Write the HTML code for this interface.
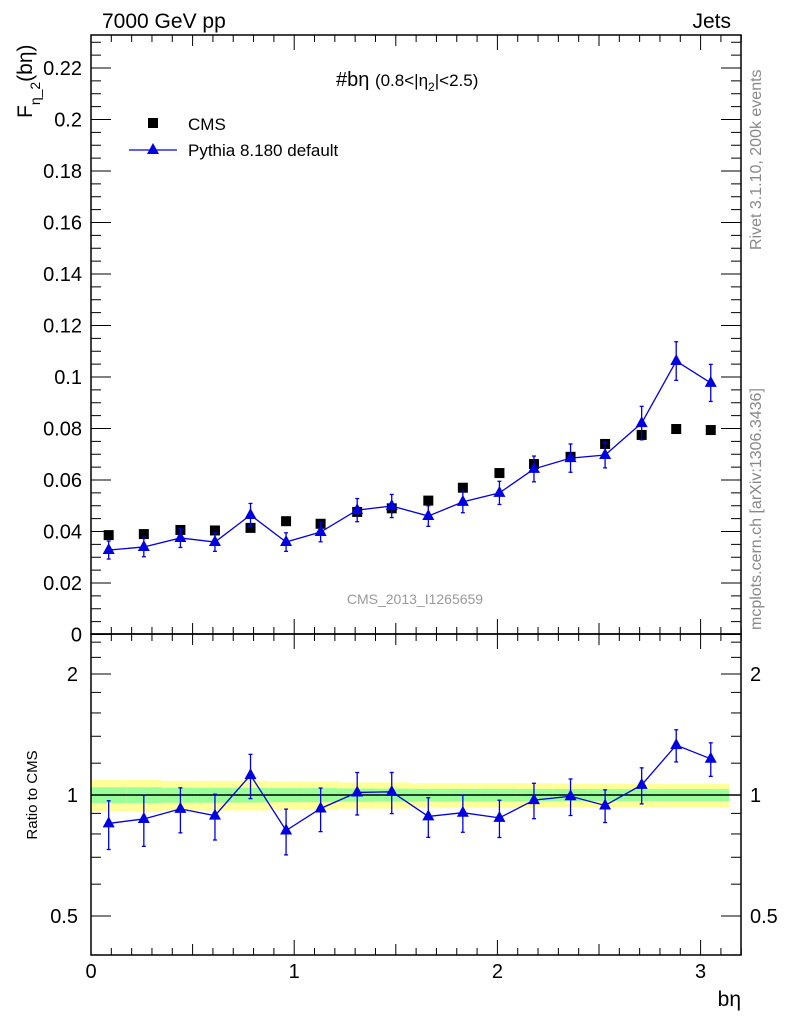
<!DOCTYPE html>
<html><head><meta charset="utf-8"><style>
html,body{margin:0;padding:0;background:#fff;}
svg{display:block;font-family:"Liberation Sans",sans-serif;}
</style></head><body>
<svg id="c" width="786" height="1024" viewBox="0 0 786 1024"></svg>
<script>
const xVals=[0.087,0.26,0.44,0.61,0.785,0.96,1.13,1.31,1.48,1.66,1.83,2.01,2.18,2.36,2.53,2.71,2.88,3.05];
const cmsVals=[0.0386,0.039,0.0406,0.0404,0.0414,0.044,0.043,0.0476,0.049,0.052,0.057,0.0627,0.0662,0.069,0.074,0.0775,0.0798,0.0794];
const mcVals=[0.0328,0.034,0.0375,0.0359,0.0464,0.0359,0.0398,0.0483,0.0499,0.046,0.0515,0.055,0.0643,0.0685,0.0697,0.0821,0.1062,0.0977];
const mcErr=[0.0035,0.0038,0.0037,0.0036,0.0045,0.0036,0.0038,0.0045,0.0045,0.004,0.0042,0.0045,0.005,0.0055,0.005,0.0065,0.0075,0.0072];
const bandOuter=[0.09,0.09,0.085,0.085,0.085,0.08,0.08,0.075,0.075,0.07,0.07,0.07,0.07,0.068,0.068,0.067,0.067,0.067];
const bandInner=[0.045,0.045,0.043,0.043,0.042,0.04,0.04,0.038,0.037,0.036,0.036,0.036,0.035,0.035,0.034,0.034,0.034,0.034];
const mainTicks=[0,0.02,0.04,0.06,0.08,0.1,0.12,0.14,0.16,0.18,0.2,0.22];
const ratioTicks=[0.5,1,2];
const xTicks=[0,1,2,3];

const L=91,R=741,T=35,MB=634,RB=955;
const X=v=>L+v*203.2;
const Y=v=>634.5-v*2575;
const RY=v=>795-Math.log2(v)*121;
const svg=document.getElementById('c');
const NS='http://www.w3.org/2000/svg';
function mk(tag,a,txt){const e=document.createElementNS(NS,tag);for(const k in a)e.setAttribute(k,a[k]);if(txt!==undefined)e.textContent=txt;svg.appendChild(e);return e;}

for(let i=0;i<xVals.length;i++){
  const x0=i==0?L:(X(xVals[i-1])+X(xVals[i]))/2, x1=i==xVals.length-1?X(3.14):(X(xVals[i])+X(xVals[i+1]))/2;
  let e=mk('rect',{x:x0,y:RY(1+bandOuter[i]),width:x1-x0,height:RY(1-bandOuter[i])-RY(1+bandOuter[i]),fill:'#ffff99'});
  
  e=mk('rect',{x:x0,y:RY(1+bandInner[i]),width:x1-x0,height:RY(1-bandInner[i])-RY(1+bandInner[i]),fill:'#99ff99'});
  
}
mk('line',{x1:L,x2:R,y1:RY(1),y2:RY(1),stroke:'#000','stroke-width':1.5,});

mk('rect',{x:L,y:T,width:R-L,height:MB-T,fill:'none',stroke:'#000','stroke-width':1.5,});
mk('rect',{x:L,y:MB,width:R-L,height:RB-MB,fill:'none',stroke:'#000','stroke-width':1.5,});

for(let k=0;k<=32;k++){const v=k/10,x=X(v);const len=k%10==0?15:(k%5==0?11:7);
 for(const [yb,yt] of [[MB,T],[RB,MB]]){
  mk('line',{x1:x,x2:x,y1:yb,y2:yb-len,stroke:'#000'});
  mk('line',{x1:x,x2:x,y1:yt,y2:yt+len,stroke:'#000'});}}
xTicks.forEach(v=>{const e=mk('text',{x:X(v),y:978,'font-size':20,'text-anchor':'middle'},String(v));
 });
for(let k=0;k<=46;k++){const v=k*0.005,y=Y(v);if(y<T)break;const len=k%4==0?20:10;
 mk('line',{x1:L,x2:L+len,y1:y,y2:y,stroke:'#000'});mk('line',{x1:R,x2:R-len,y1:y,y2:y,stroke:'#000'});}
mainTicks.forEach(v=>{const e=mk('text',{x:82,y:Y(v)+7,'font-size':20,'text-anchor':'end'},String(v));
 });
[0.4,0.5,0.6,0.7,0.8,0.9,1,1.2,1.4,1.6,1.8,2,2.2,2.4].forEach(v=>{const y=RY(v);const len=(v==0.5||v==1||v==2)?20:10;
 mk('line',{x1:L,x2:L+len,y1:y,y2:y,stroke:'#000'});mk('line',{x1:R,x2:R-len,y1:y,y2:y,stroke:'#000'});});
ratioTicks.forEach(v=>{let e=mk('text',{x:78,y:RY(v)+7,'font-size':20,'text-anchor':'end'},String(v));
 
 e=mk('text',{x:750,y:RY(v)+7,'font-size':20},String(v));
 });

xVals.forEach((xv,i)=>{const e=mk('rect',{x:X(xv)-5,y:Y(cmsVals[i])-5,width:10,height:10,fill:'#000'});
 });

function tri(x,y){return `${x},${y-7} ${x-6},${y+4} ${x+6},${y+4}`;}
let pts=xVals.map((xv,i)=>X(xv)+','+Y(mcVals[i])).join(' ');
mk('polyline',{points:pts,fill:'none',stroke:'#0000e0','stroke-width':1.3,});
xVals.forEach((xv,i)=>{const x=X(xv);
 mk('line',{x1:x,x2:x,y1:Y(mcVals[i]+mcErr[i]),y2:Y(mcVals[i]-mcErr[i]),stroke:'#0000e0','stroke-width':1.3});
 mk('line',{x1:x-2,x2:x+2,y1:Y(mcVals[i]+mcErr[i]),y2:Y(mcVals[i]+mcErr[i]),stroke:'#0000e0','stroke-width':1.3});
 mk('line',{x1:x-2,x2:x+2,y1:Y(mcVals[i]-mcErr[i]),y2:Y(mcVals[i]-mcErr[i]),stroke:'#0000e0','stroke-width':1.3});
 const e=mk('polygon',{points:tri(x,Y(mcVals[i])),fill:'#0000e0'});
 });
pts=xVals.map((xv,i)=>X(xv)+','+RY(mcVals[i]/cmsVals[i])).join(' ');
mk('polyline',{points:pts,fill:'none',stroke:'#0000e0','stroke-width':1.3,});
xVals.forEach((xv,i)=>{const x=X(xv),r=mcVals[i]/cmsVals[i],er=1.3*mcErr[i]/cmsVals[i];
 mk('line',{x1:x,x2:x,y1:RY(r+er),y2:RY(r-er),stroke:'#0000e0','stroke-width':1.3});
 mk('line',{x1:x-2,x2:x+2,y1:RY(r+er),y2:RY(r+er),stroke:'#0000e0','stroke-width':1.3});
 mk('line',{x1:x-2,x2:x+2,y1:RY(r-er),y2:RY(r-er),stroke:'#0000e0','stroke-width':1.3});
 const e=mk('polygon',{points:tri(x,RY(r)),fill:'#0000e0'});
 });
</script>
<svg width="786" height="1024" style="position:absolute;left:0;top:0">
<text x="102" y="28" font-size="21">7000 GeV pp</text>
<text x="731" y="28" font-size="21" text-anchor="end">Jets</text>
<text x="336" y="86" font-size="20">#bη <tspan font-size="17">(0.8&lt;|η<tspan font-size="12" dy="5">2</tspan><tspan dy="-5">|&lt;2.5)</tspan></tspan></text>
<g transform="translate(32,118) rotate(-90)"><text x="0" y="0" font-size="21">F<tspan font-size="14" dy="8">η_2</tspan><tspan dy="-8">(bη)</tspan></text></g>
<rect x="148" y="118" width="10" height="10" fill="#000"/>
<text x="188" y="130" font-size="17">CMS</text>
<line x1="129" x2="177" y1="150" y2="150" stroke="#0000e0" stroke-width="1.3"/>
<polygon points="153,143 147,154 159,154" fill="#0000e0"/>
<text x="188" y="156" font-size="17">Pythia 8.180 default</text>
<text x="415" y="604" font-size="14" fill="#999" text-anchor="middle">CMS_2013_I1265659</text>
<g transform="translate(761,250) rotate(-90)"><text font-size="16" fill="#888">Rivet 3.1.10,  200k events</text></g>
<g transform="translate(761,630) rotate(-90)"><text font-size="16" fill="#888">mcplots.cern.ch [arXiv:1306.3436]</text></g>
<g transform="translate(37,795) rotate(-90)"><text font-size="15" text-anchor="middle">Ratio to CMS</text></g>
<text x="741" y="1006" font-size="21" text-anchor="end">bη</text>
</svg>
</body></html>
